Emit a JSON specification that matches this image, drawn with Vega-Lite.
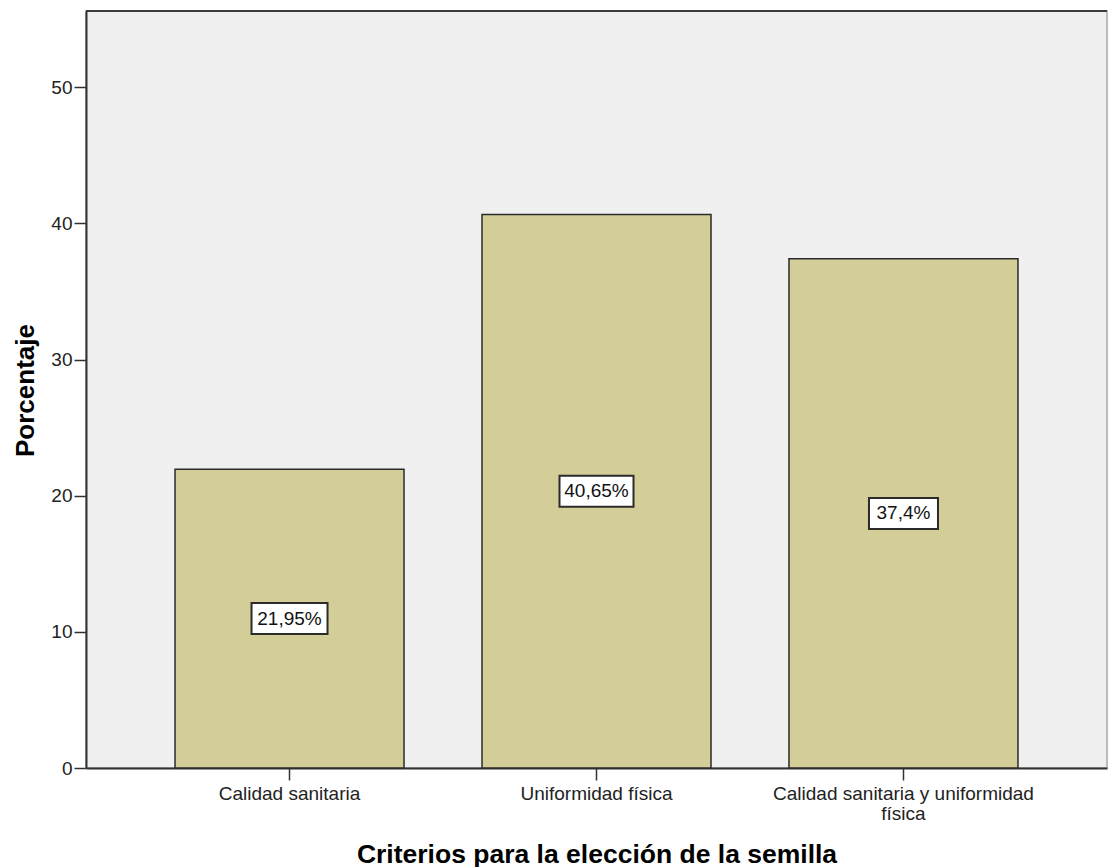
{
  "$schema": "https://vega.github.io/schema/vega-lite/v6.json",
  "width": 1021,
  "height": 757,
  "autosize": {"type": "none"},
  "padding": {"left": 86, "top": 11, "right": 1, "bottom": 99},
  "background": "white",
  "config": {
    "view": {"fill": "#F0F0F0", "stroke": "#A8A8A8", "strokeWidth": 1.5},
    "font": "Liberation Sans"
  },
  "data": {
    "values": [
      {"criterio": "Calidad sanitaria", "pct": 21.95, "label": "21,95%"},
      {"criterio": "Uniformidad física", "pct": 40.65, "label": "40,65%"},
      {"criterio": "Calidad sanitaria y uniformidad física", "pct": 37.4, "label": "37,4%"}
    ]
  },
  "layer": [
    {
      "mark": {"type": "bar", "fill": "#D3CE97", "stroke": "#2B2B2B", "strokeWidth": 1.5},
      "encoding": {
        "x": {
          "field": "criterio",
          "type": "nominal",
          "sort": null,
          "scale": {"paddingInner": 0.254, "paddingOuter": 0.29},
          "axis": {
            "title": "Criterios para la elección de la semilla",
            "titleFontSize": 26.5,
            "titleFontWeight": "bold",
            "titleColor": "black",
            "titleBaseline": "alphabetic",
            "titleY": 94,
            "labelFontSize": 19,
            "labelAngle": 0,
            "labelPadding": 4,
            "labelLineHeight": 20,
            "labelLimit": 400,
            "labelColor": "#222",
            "labelExpr": "datum.label == 'Calidad sanitaria y uniformidad física' ? ['Calidad sanitaria y uniformidad', 'física'] : datum.label",
            "tickSize": 12,
            "tickColor": "#333",
            "tickWidth": 1.5,
            "domainColor": "#333",
            "domainWidth": 2
          }
        },
        "y": {
          "field": "pct",
          "type": "quantitative",
          "scale": {"domain": [0, 55.6], "nice": false},
          "axis": {
            "values": [0, 10, 20, 30, 40, 50],
            "format": "d",
            "title": "Porcentaje",
            "titleFontSize": 26,
            "titleFontWeight": "bold",
            "titleColor": "black",
            "titleAngle": 270,
            "titleAlign": "center",
            "titleBaseline": "alphabetic",
            "titleX": -53,
            "titleY": 379,
            "labelFontSize": 19,
            "labelColor": "#222",
            "labelPadding": 2,
            "tickSize": 12,
            "tickColor": "#333",
            "tickWidth": 1.5,
            "domainColor": "#333",
            "domainWidth": 2,
            "grid": false
          }
        }
      }
    },
    {
      "mark": {"type": "rule", "stroke": "#3A3A3A", "strokeWidth": 2},
      "encoding": {
        "y": {"datum": 55.6, "type": "quantitative", "scale": {"domain": [0, 55.6], "nice": false}, "axis": null}
      }
    },
    {
      "mark": {"type": "point", "filled": true, "fill": "white", "stroke": "#2B2B2B", "strokeWidth": 2, "opacity": 1, "size": 4},
      "encoding": {
        "x": {"field": "criterio", "type": "nominal", "sort": null},
        "y": {"field": "pct", "type": "quantitative", "scale": {"domain": [0, 111.2], "nice": false}, "axis": null},
        "shape": {
          "field": "criterio",
          "type": "nominal",
          "scale": {
            "domain": ["Calidad sanitaria", "Uniformidad física", "Calidad sanitaria y uniformidad física"],
            "range": ["M-38,-15.5H38V15.5H-38Z", "M-37,-15.5H37V15.5H-37Z", "M-34.5,-15.5H34.5V15.5H-34.5Z"]
          },
          "legend": null
        }
      }
    },
    {
      "mark": {"type": "text", "fontSize": 19, "color": "#111", "baseline": "middle", "align": "center"},
      "encoding": {
        "x": {"field": "criterio", "type": "nominal", "sort": null},
        "y": {"field": "pct", "type": "quantitative", "scale": {"domain": [0, 111.2], "nice": false}, "axis": null},
        "text": {"field": "label"}
      }
    }
  ],
  "resolve": {"scale": {"y": "independent"}}
}
